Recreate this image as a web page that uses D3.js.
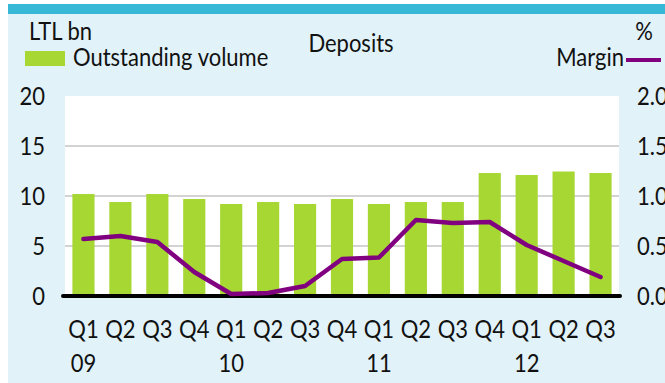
<!DOCTYPE html>
<html>
<head>
<meta charset="utf-8">
<script src="https://cdn.jsdelivr.net/npm/d3@7"></script>
<style>
  html, body { margin: 0; padding: 0; background: #ffffff; }
  svg { display: block; }
  text { font-family: Lato, "Open Sans", sans-serif; fill: #111; }
</style>
</head>
<body>
<svg id="chart" width="665" height="383"></svg>
<script>
// Quarterly deposit volumes (LTL bn, left axis) and margin (%, right axis)
const quarters = ["Q1","Q2","Q3","Q4","Q1","Q2","Q3","Q4","Q1","Q2","Q3","Q4","Q1","Q2","Q3"];
const years = ["09", "", "", "", "10", "", "", "", "11", "", "", "", "12", "", ""];
const volume = [10.2, 9.4, 10.2, 9.7, 9.2, 9.4, 9.2, 9.7, 9.2, 9.4, 9.4, 12.3, 12.1, 12.45, 12.3];
const margin = [0.57, 0.60, 0.54, 0.24, 0.02, 0.03, 0.10, 0.37, 0.385, 0.76, 0.73, 0.74, 0.51, 0.35, 0.19];
const leftTicks = [0, 5, 10, 15, 20];
const rightTicks = [0, 0.5, 1.0, 1.5, 2.0];

const colors = {
  panel: "#e1f3f9",
  band: "#36b8d6",
  bar: "#a6d733",
  line: "#800080",
  grid: "#c4c4c4"
};

const svg = d3.select("#chart");
const W = 665, H = 383;
const plot = { left: 65, right: 619, top: 96, bottom: 296 };
const fs = "25px";
const condense = 0.88; // horizontal squeeze giving a condensed face

// Panel background and top band
svg.append("rect").attr("x", 8).attr("y", 14).attr("width", W - 8).attr("height", H - 14).attr("fill", colors.panel);
svg.append("rect").attr("x", 8).attr("y", 4).attr("width", W - 8).attr("height", 10).attr("fill", colors.band);
svg.append("rect").attr("x", plot.left).attr("y", plot.top)
  .attr("width", plot.right - plot.left).attr("height", plot.bottom - plot.top).attr("fill", "#ffffff");

const idx = d3.range(quarters.length);
const x = d3.scaleBand().domain(idx).range([plot.left, plot.right]).paddingInner(0.4).paddingOuter(0.2);
const yL = d3.scaleLinear().domain([0, 20]).range([plot.bottom, plot.top]);
const yR = d3.scaleLinear().domain([0, 2]).range([plot.bottom, plot.top]);

// Gridlines
svg.append("g").selectAll("line").data([5, 10, 15]).join("line")
  .attr("x1", plot.left).attr("x2", plot.right)
  .attr("y1", d => yL(d)).attr("y2", d => yL(d))
  .attr("stroke", colors.grid).attr("stroke-width", 1.5);

// Bars
svg.append("g").selectAll("rect").data(volume).join("rect")
  .attr("x", (d, i) => x(i)).attr("width", x.bandwidth())
  .attr("y", d => yL(d)).attr("height", d => yL(0) - yL(d))
  .attr("fill", colors.bar);

// Baseline
svg.append("line").attr("x1", plot.left - 2).attr("x2", plot.right + 1)
  .attr("y1", plot.bottom).attr("y2", plot.bottom)
  .attr("stroke", "#000").attr("stroke-width", 4).attr("stroke-linecap", "round");

// Margin line
const line = d3.line().x((d, i) => x(i) + x.bandwidth() / 2).y(d => yR(d));
svg.append("path").datum(margin).attr("d", line)
  .attr("fill", "none").attr("stroke", colors.line).attr("stroke-width", 4.5)
  .attr("stroke-linejoin", "round").attr("stroke-linecap", "round");

// Axes
const axL = svg.append("g").attr("transform", `translate(${plot.left},0)`)
  .call(d3.axisLeft(yL).tickValues(leftTicks).tickSize(0).tickPadding(20));
const axR = svg.append("g").attr("transform", `translate(${plot.right},0)`)
  .call(d3.axisRight(yR).tickValues(rightTicks).tickSize(0).tickPadding(18).tickFormat(d3.format(".1f")));
const axB = svg.append("g").attr("transform", `translate(0,${plot.bottom})`)
  .call(d3.axisBottom(x).tickSize(0).tickFormat(i => quarters[i]));
[axL, axR, axB].forEach(g => {
  g.select(".domain").remove();
  g.attr("font-family", null).attr("font-size", null);
  g.selectAll("text").attr("font-size", fs).attr("fill", "#111");
});
axB.selectAll("text").attr("y", 42).attr("dy", 0);

// Year labels under each Q1
svg.append("g").selectAll("text").data(years).join("text")
  .attr("x", (d, i) => x(i) + x.bandwidth() / 2).attr("y", 372)
  .attr("text-anchor", "middle").attr("font-size", fs).text(d => d);

// Titles and legend
svg.append("text").attr("x", 29).attr("y", 40).attr("font-size", fs).text("LTL bn");
svg.append("text").attr("x", 351).attr("y", 52).attr("text-anchor", "middle").attr("font-size", fs).text("Deposits");
svg.append("text").attr("x", 653).attr("y", 40).attr("text-anchor", "end").attr("font-size", fs).text("%");

svg.append("rect").attr("x", 25).attr("y", 51).attr("width", 40).attr("height", 15).attr("fill", colors.bar);
svg.append("text").attr("x", 73).attr("y", 66).attr("font-size", fs).text("Outstanding volume");

svg.append("text").attr("x", 624).attr("y", 66).attr("text-anchor", "end").attr("font-size", fs).text("Margin");
svg.append("line").attr("x1", 626).attr("x2", 661).attr("y1", 60).attr("y2", 60)
  .attr("stroke", colors.line).attr("stroke-width", 4);

// Squeeze every label horizontally for a condensed look
svg.selectAll("text").each(function () {
  const t = d3.select(this);
  if (!t.text()) return;
  const len = this.getComputedTextLength();
  t.attr("textLength", len * condense).attr("lengthAdjust", "spacingAndGlyphs");
});
</script>
</body>
</html>
